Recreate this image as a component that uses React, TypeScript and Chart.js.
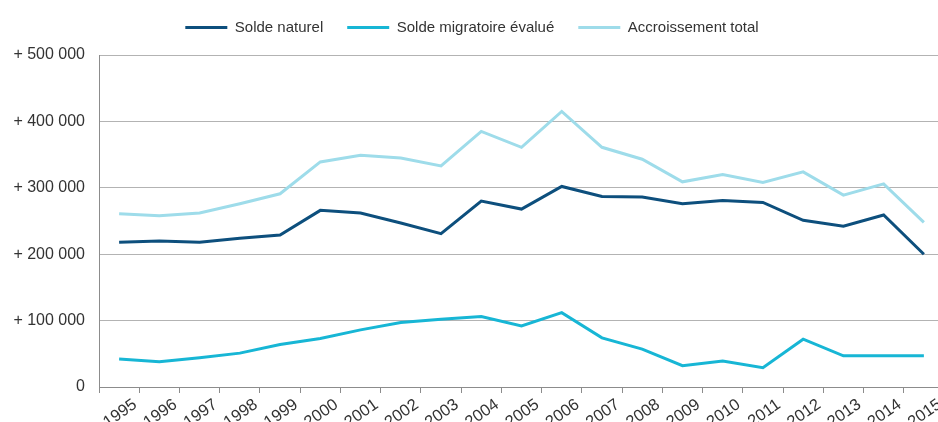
import React, { useEffect, useRef } from "react";
import { Chart, registerables } from "chart.js";

Chart.register(...registerables);

const years = ["1995","1996","1997","1998","1999","2000","2001","2002","2003","2004","2005","2006","2007","2008","2009","2010","2011","2012","2013","2014","2015"];
const soldeNaturel = [218000, 220000, 218000, 224000, 229000, 266000, 262000, 247000, 231000, 280000, 268000, 302000, 287000, 286000, 276000, 281000, 278000, 251000, 242000, 259000, 200000];
const soldeMigratoire = [42000, 38000, 44000, 51000, 64000, 73000, 86000, 97000, 102000, 106000, 92000, 112000, 74000, 57000, 32000, 39000, 29000, 72000, 47000, 47000, 47000];
const accroissementTotal = [261000, 258000, 262000, 276000, 291000, 339000, 349000, 345000, 333000, 385000, 361000, 415000, 361000, 343000, 309000, 320000, 308000, 324000, 289000, 306000, 248000];
const seriesNames = ["Solde naturel", "Solde migratoire évalué", "Accroissement total"];
const yTickValues = [0, 100000, 200000, 300000, 400000, 500000];
const yTickLabels = ["0", "+ 100 000", "+ 200 000", "+ 300 000", "+ 400 000", "+ 500 000"];

const COLORS = ["#0d4f7d", "#17b6d5", "#9edcea"];
const FONT = "'Liberation Sans', Arial, Helvetica, sans-serif";

export default function App() {
  const ref = useRef<HTMLCanvasElement>(null);
  useEffect(() => {
    document.documentElement.style.overflow = "hidden";
    document.body.style.overflow = "hidden";
    document.body.style.margin = "0";
    const ctx = ref.current!;
    const values = [soldeNaturel, soldeMigratoire, accroissementTotal];
    const chart = new Chart(ctx, {
      type: "line",
      data: {
        labels: years,
        datasets: values.map((v, i) => ({
          label: seriesNames[i],
          data: v,
          borderColor: COLORS[i],
          backgroundColor: COLORS[i],
          borderWidth: 3,
          pointRadius: 0,
          tension: 0,
          fill: false,
        })),
      },
      options: {
        responsive: false,
        animation: false,
        layout: { padding: { top: -4, left: 0, right: 0, bottom: 0 } },
        plugins: {
          tooltip: { enabled: false },
          title: {
            display: true,
            text: " ",
            position: "top",
            weight: 500,
            font: { size: 1, lineHeight: 1 },
            padding: { top: 0, bottom: 9 },
          },
          legend: {
            display: true,
            position: "top",
            labels: {
              boxWidth: 42,
              boxHeight: 3,
              padding: 24,
              color: "#333333",
              font: { family: FONT, size: 15 },
              generateLabels: (c: any) =>
                c.data.datasets.map((d: any, i: number) => ({
                  text: d.label,
                  fillStyle: COLORS[i],
                  strokeStyle: COLORS[i],
                  lineWidth: 0,
                  hidden: false,
                  datasetIndex: i,
                  fontColor: "#333333",
                })),
            },
          },
        },
        scales: {
          x: {
            type: "category",
            offset: true,
            afterFit: (s: any) => { s.height = 35; },
            grid: {
              offset: true,
              drawOnChartArea: false,
              drawTicks: true,
              tickLength: 6,
              color: "#8c8c8c",
            },
            border: { display: true, color: "#8c8c8c", width: 1 },
            ticks: {
              autoSkip: false,
              maxRotation: 35,
              minRotation: 35,
              labelOffset: 16,
              padding: 2,
              color: "#333333",
              font: { family: FONT, size: 16.5 },
            },
          },
          y: {
            min: 0,
            max: 500000,
            afterFit: (s: any) => { s.width = 99; },
            afterBuildTicks: (s: any) => { s.ticks = yTickValues.map((v) => ({ value: v })); },
            grid: { drawTicks: false, color: "#b3b3b3", lineWidth: 1 },
            border: { display: true, color: "#8c8c8c", width: 1 },
            ticks: {
              padding: 14,
              color: "#333333",
              font: { family: FONT, size: 16 },
              callback: (v: any) => {
                const i = yTickValues.indexOf(Number(v));
                return i >= 0 ? yTickLabels[i] : "";
              },
            },
          },
        },
      },
    } as any);
    return () => chart.destroy();
  }, []);
  return (
    <div style={{ width: 944, height: 422 }}>
      <canvas ref={ref} width={944} height={422} style={{ display: "block" }} />
    </div>
  );
}
